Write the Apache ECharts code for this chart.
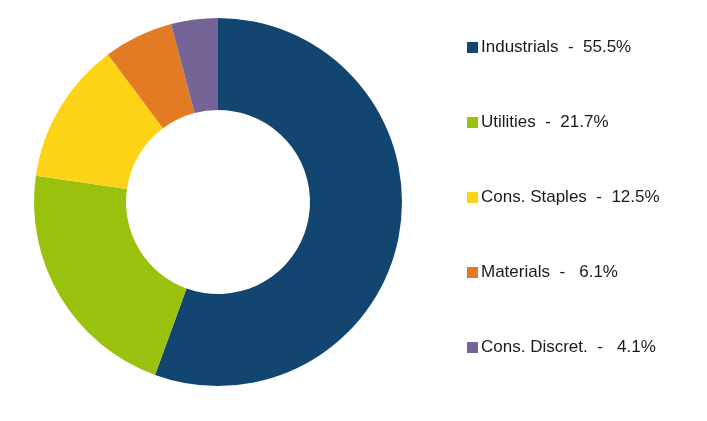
<!DOCTYPE html>
<html>
<head>
<meta charset="utf-8">
<script src="https://cdn.jsdelivr.net/npm/echarts@6/dist/echarts.min.js"></script>
<style>
  html, body { margin: 0; padding: 0; background: #fff; }
  #chart { width: 707px; height: 421px; }
</style>
</head>
<body>
<div id="chart"></div>
<script>
// sector weights
const sectors = ["Industrials", "Utilities", "Cons. Staples", "Materials", "Cons. Discret."];
const weights = [55.5, 21.7, 12.5, 6.1, 4.1];
// legend text as shown
const legendLabels = [
  "Industrials  -  55.5%",
  "Utilities  -  21.7%",
  "Cons. Staples  -  12.5%",
  "Materials  -   6.1%",
  "Cons. Discret.  -   4.1%"
];
const colors = ["#124670", "#9bc10f", "#fcd317", "#e27b24", "#756597"];

const chart = echarts.init(document.getElementById("chart"));

const option = {
  animation: false,
  color: colors,
  legend: {
    orient: "vertical",
    left: 467,
    top: 39,
    padding: 0,
    itemWidth: 11,
    itemHeight: 11,
    itemGap: 58,
    icon: "rect",
    selectedMode: false,
    textStyle: {
      fontFamily: "Liberation Sans, Arial, sans-serif",
      fontSize: 17,
      color: "#1a1a1a",
      padding: [0, 0, 0, -2],
    },
    formatter: (name) => legendLabels[sectors.indexOf(name)],
  },
  series: [
    {
      type: "pie",
      center: [218, 202],
      radius: [92, 184],
      startAngle: 90,
      clockwise: true,
      label: { show: false },
      labelLine: { show: false },
      emphasis: { disabled: true },
      itemStyle: { borderWidth: 0 },
      data: sectors.map((s, i) => ({ name: s, value: weights[i] })),
    },
  ],
};
chart.setOption(option);
</script>
</body>
</html>
